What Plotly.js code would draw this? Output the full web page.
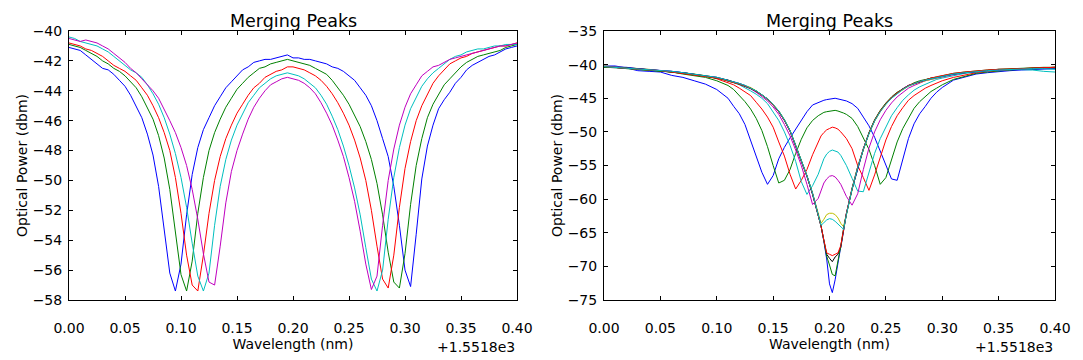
<!DOCTYPE html>
<html>
<head>
<meta charset="utf-8">
<script src="https://cdn.plot.ly/plotly-3.0.1.min.js"></script>
<style>
  body { margin: 0; background: #fff; }
  #myPlot { width: 1083px; height: 360px; }
</style>
</head>
<body>
<div id="myPlot"></div>
<script>
// wavelength offsets (nm), added to 1.5518e3
const leftX = [0.000,0.005,0.010,0.015,0.020,0.025,0.030,0.035,0.040,0.045,
  0.050,0.055,0.060,0.065,0.070,0.075,0.080,0.085,0.090,0.095,
  0.100,0.105,0.110,0.115,0.120,0.125,0.130,0.135,0.140,0.145,
  0.150,0.155,0.160,0.165,0.170,0.175,0.180,0.185,0.190,0.195,
  0.200,0.205,0.210,0.215,0.220,0.225,0.230,0.235,0.240,0.245,
  0.250,0.255,0.260,0.265,0.270,0.275,0.280,0.285,0.290,0.295,
  0.300,0.305,0.310,0.315,0.320,0.325,0.330,0.335,0.340,0.345,
  0.350,0.355,0.360,0.365,0.370,0.375,0.380,0.385,0.390,0.395,0.400];

const leftBlue = [-41.1,-41.2,-41.3,-41.6,-41.9,-42.2,-42.5,-42.6,-42.9,-43.3,
  -43.7,-44.3,-45.0,-45.8,-46.9,-48.3,-50.4,-53.2,-56.2,-57.4,
  -55.6,-52.3,-49.6,-47.8,-46.6,-45.8,-45.0,-44.4,-43.8,-43.4,
  -43.0,-42.6,-42.4,-42.1,-42.0,-41.9,-41.9,-41.8,-41.7,-41.6,
  -41.8,-41.8,-41.9,-41.9,-42.0,-42.1,-42.2,-42.4,-42.5,-42.7,
  -43.0,-43.3,-43.8,-44.3,-45.0,-46.0,-47.2,-48.4,-50.4,-53.0,
  -56.0,-57.1,-53.6,-49.9,-47.7,-46.3,-45.2,-44.6,-44.1,-43.5,
  -43.1,-42.6,-42.3,-42.1,-41.9,-41.7,-41.6,-41.4,-41.2,-41.1,-41.0];

const leftGreen = [-40.9,-41.0,-41.1,-41.3,-41.5,-41.7,-42.0,-42.2,-42.5,-42.7,
  -43.0,-43.4,-43.8,-44.4,-45.1,-45.9,-47.0,-48.5,-50.6,-53.4,
  -56.3,-57.4,-55.4,-52.2,-49.8,-48.0,-46.8,-45.9,-45.1,-44.5,
  -43.9,-43.5,-43.1,-42.8,-42.5,-42.4,-42.2,-42.1,-42.0,-41.9,
  -42.0,-42.1,-42.2,-42.3,-42.5,-42.7,-42.9,-43.3,-43.8,-44.3,
  -44.9,-45.6,-46.4,-47.4,-48.6,-50.2,-52.3,-54.8,-56.8,-57.2,
  -54.9,-51.6,-49.0,-47.2,-45.8,-44.9,-44.2,-43.6,-43.2,-42.8,
  -42.4,-42.1,-41.9,-41.7,-41.6,-41.5,-41.4,-41.3,-41.1,-41.0,-40.9];

const leftRed = [-40.8,-40.9,-41.0,-41.2,-41.3,-41.5,-41.7,-42.0,-42.3,-42.5,
  -42.7,-43.0,-43.3,-43.8,-44.3,-45.0,-45.8,-46.8,-48.0,-49.8,
  -52.2,-55.0,-57.0,-57.4,-55.0,-52.2,-50.0,-48.4,-47.2,-46.3,
  -45.5,-44.9,-44.3,-43.8,-43.5,-43.1,-42.9,-42.7,-42.6,-42.4,
  -42.4,-42.5,-42.6,-42.8,-43.0,-43.3,-43.7,-44.2,-44.8,-45.5,
  -46.3,-47.3,-48.5,-50.0,-52.0,-54.4,-56.6,-57.2,-55.0,-51.8,
  -49.2,-47.4,-46.0,-45.0,-44.2,-43.5,-43.0,-42.6,-42.2,-42.0,
  -41.8,-41.7,-41.5,-41.4,-41.3,-41.2,-41.1,-41.0,-41.0,-40.9,-40.8];

const leftCyan = [-40.4,-40.5,-40.7,-40.8,-40.9,-41.0,-41.2,-41.4,-41.7,-42.0,
  -42.3,-42.6,-42.8,-43.1,-43.6,-44.2,-44.9,-45.8,-46.9,-48.2,
  -49.8,-51.8,-54.2,-56.4,-57.4,-56.2,-53.0,-50.4,-48.6,-47.3,
  -46.3,-45.5,-44.8,-44.3,-43.8,-43.5,-43.2,-43.0,-42.9,-42.8,
  -42.9,-43.0,-43.2,-43.5,-43.8,-44.3,-44.9,-45.7,-46.6,-47.7,
  -49.0,-50.5,-52.3,-54.5,-56.6,-57.4,-56.0,-52.6,-49.8,-47.8,
  -46.3,-45.2,-44.4,-43.7,-43.2,-42.8,-42.5,-42.2,-41.9,-41.7,
  -41.6,-41.4,-41.3,-41.2,-41.2,-41.1,-41.0,-41.0,-40.9,-40.9,-40.9];

const leftMagenta = [-40.5,-40.6,-40.7,-40.6,-40.7,-40.8,-41.0,-41.2,-41.5,-41.8,
  -42.1,-42.5,-42.8,-43.2,-43.6,-44.0,-44.5,-45.2,-46.0,-46.8,
  -47.8,-49.0,-50.6,-52.6,-54.9,-56.8,-57.0,-54.4,-51.5,-49.4,
  -48.0,-46.9,-45.9,-45.1,-44.5,-44.0,-43.6,-43.4,-43.2,-43.1,
  -43.2,-43.3,-43.5,-43.8,-44.2,-44.8,-45.5,-46.3,-47.3,-48.4,
  -49.8,-51.4,-53.4,-55.6,-57.3,-56.4,-53.0,-50.0,-47.9,-46.3,
  -45.1,-44.2,-43.6,-43.0,-42.7,-42.4,-42.3,-42.1,-41.9,-41.8,
  -41.7,-41.6,-41.5,-41.4,-41.3,-41.2,-41.1,-41.0,-41.0,-40.9,-40.8];

const rightX = [0.00,0.01,0.02,0.03,0.04,0.05,0.06,0.07,0.08,0.09,0.10,
  0.105,0.11,0.115,0.12,0.125,0.13,0.135,0.14,0.145,0.15,0.155,0.16,0.165,0.17,0.175,0.18,0.185,
  0.19,0.1925,0.195,0.1975,0.20,0.2025,0.205,0.2075,0.21,0.2125,0.215,
  0.22,0.225,0.23,0.235,0.24,0.245,0.25,0.255,0.26,0.265,0.27,0.275,0.28,0.285,0.29,0.295,0.30,
  0.31,0.32,0.33,0.34,0.35,0.36,0.37,0.38,0.39,0.40];

const rightBlue1 = [-40.2,-40.2,-40.5,-40.9,-41.0,-41.1,-41.6,-41.9,-42.4,-42.9,-43.7,
  -44.4,-45.0,-46.2,-47.3,-48.9,-51.2,-53.8,-56.0,-57.8,-56.5,-54.0,-52.3,-50.9,-49.6,-48.3,-47.0,-46.0,
  -45.6,-45.5,-45.3,-45.2,-45.1,-45.1,-45.0,-45.1,-45.2,-45.3,-45.4,
  -45.8,-46.5,-47.8,-49.1,-50.8,-52.8,-55.0,-57.0,-57.2,-54.0,-51.0,-48.8,-47.3,-46.2,-45.0,-44.1,-43.4,
  -42.3,-41.8,-41.4,-41.2,-41.0,-40.9,-40.8,-40.7,-40.6,-40.6];

const rightGreen1 = [-40.4,-40.4,-40.6,-40.7,-40.8,-41.0,-41.1,-41.4,-41.6,-41.9,-42.4,
  -42.7,-43.1,-43.7,-44.6,-45.5,-46.6,-48.0,-49.8,-52.2,-55.0,-57.6,-57.2,-55.6,-53.2,-51.1,-49.4,-48.3,
  -47.6,-47.3,-47.1,-47.0,-46.9,-46.8,-46.8,-46.9,-47.0,-47.2,-47.4,
  -48.0,-49.2,-51.0,-52.6,-55.0,-57.8,-56.8,-54.0,-51.5,-49.5,-47.9,-46.5,-45.5,-44.7,-44.0,-43.5,-43.0,
  -42.2,-41.7,-41.3,-41.1,-40.9,-40.8,-40.7,-40.6,-40.6,-40.5];

const rightRed1 = [-40.3,-40.4,-40.6,-40.6,-40.8,-40.9,-41.1,-41.3,-41.5,-41.7,-42.1,
  -42.4,-42.7,-43.0,-43.5,-44.0,-44.6,-45.6,-46.6,-47.8,-49.3,-51.5,-53.6,-56.3,-58.5,-57.2,-55.6,-53.4,
  -51.5,-50.6,-50.1,-49.7,-49.5,-49.3,-49.4,-49.6,-50.0,-50.5,-51.0,
  -52.5,-55.0,-56.8,-58.7,-56.4,-53.8,-51.2,-49.2,-47.6,-46.4,-45.3,-44.6,-44.0,-43.5,-43.1,-42.7,-42.4,
  -41.9,-41.5,-41.2,-41.0,-40.8,-40.7,-40.6,-40.5,-40.5,-40.4];

const rightCyan1 = [-40.3,-40.4,-40.5,-40.6,-40.7,-40.9,-41.0,-41.2,-41.4,-41.6,-41.9,
  -42.2,-42.4,-42.7,-43.0,-43.4,-43.9,-44.4,-45.0,-45.8,-47.0,-48.3,-50.0,-52.0,-54.4,-57.4,-59.3,-58.0,
  -56.3,-55.2,-54.0,-53.3,-52.9,-52.7,-52.8,-53.0,-53.5,-54.2,-55.0,
  -56.9,-58.8,-58.9,-56.0,-53.2,-51.0,-49.2,-47.6,-46.4,-45.3,-44.5,-43.8,-43.3,-42.9,-42.5,-42.2,-42.0,
  -41.6,-41.3,-41.1,-40.9,-40.8,-40.7,-40.7,-40.8,-41.0,-41.1];

const rightMagenta1 = [-40.3,-40.4,-40.5,-40.6,-40.7,-40.8,-41.0,-41.2,-41.4,-41.6,-41.9,
  -42.1,-42.3,-42.6,-42.9,-43.2,-43.6,-44.1,-44.7,-45.4,-46.3,-47.4,-48.9,-50.6,-52.7,-55.0,-57.8,-60.8,
  -59.9,-58.6,-57.6,-57.0,-56.6,-56.5,-56.7,-57.2,-57.8,-58.7,-59.6,
  -60.9,-59.2,-55.6,-52.4,-50.0,-48.2,-46.8,-45.7,-44.8,-44.1,-43.5,-43.1,-42.7,-42.4,-42.2,-42.0,-41.8,
  -41.5,-41.2,-41.0,-40.9,-40.8,-40.7,-40.6,-40.5,-40.5,-40.4];

const rightYellow = [-40.2,-40.3,-40.4,-40.6,-40.7,-40.9,-41.0,-41.2,-41.4,-41.6,-41.9,
  -42.1,-42.3,-42.5,-42.8,-43.1,-43.4,-43.9,-44.5,-45.1,-45.9,-46.9,-48.2,-49.8,-52.0,-54.2,-56.5,-59.1,
  -62.1,-63.6,-63.0,-62.3,-62.1,-62.1,-62.3,-62.8,-63.6,-64.1,-62.1,
  -58.5,-55.3,-52.6,-50.3,-48.4,-47.0,-45.9,-45.0,-44.3,-43.7,-43.2,-42.9,-42.6,-42.4,-42.2,-42.0,-41.8,
  -41.4,-41.2,-41.0,-40.9,-40.8,-40.7,-40.6,-40.5,-40.5,-40.4];

const rightBlack = [-40.4,-40.4,-40.5,-40.6,-40.8,-40.9,-41.1,-41.2,-41.4,-41.7,-42.0,
  -42.1,-42.3,-42.6,-42.9,-43.2,-43.5,-44.0,-44.5,-45.2,-46.0,-47.0,-48.3,-49.9,-52.2,-54.3,-56.6,-59.3,
  -62.3,-64.0,-66.1,-68.2,-68.8,-69.3,-68.6,-68.2,-67.2,-64.4,-62.2,
  -58.5,-55.4,-52.6,-50.2,-48.3,-46.9,-45.8,-44.9,-44.2,-43.6,-43.1,-42.8,-42.5,-42.2,-42.0,-41.9,-41.7,
  -41.4,-41.2,-41.0,-40.9,-40.7,-40.7,-40.6,-40.5,-40.5,-40.4];

const rightBlue2 = [-40.3,-40.3,-40.4,-40.6,-40.7,-40.9,-41.0,-41.2,-41.5,-41.7,-41.9,
  -42.1,-42.4,-42.6,-42.8,-43.1,-43.5,-44.0,-44.5,-45.1,-46.0,-47.0,-48.3,-49.9,-52.1,-54.3,-56.6,-59.3,
  -62.4,-64.0,-66.3,-68.9,-72.6,-73.9,-72.0,-69.5,-67.1,-64.4,-62.1,
  -58.5,-55.3,-52.5,-50.2,-48.3,-46.9,-45.8,-44.9,-44.2,-43.6,-43.1,-42.8,-42.5,-42.3,-42.1,-41.9,-41.7,
  -41.4,-41.2,-41.0,-40.9,-40.8,-40.7,-40.6,-40.5,-40.5,-40.5];

const rightGreen2 = [-40.4,-40.4,-40.5,-40.7,-40.8,-40.9,-41.1,-41.3,-41.5,-41.7,-42.0,
  -42.2,-42.4,-42.6,-42.9,-43.2,-43.5,-43.9,-44.5,-45.1,-46.0,-46.9,-48.2,-49.8,-52.0,-54.2,-56.5,-59.2,
  -62.3,-64.0,-66.2,-68.5,-69.8,-71.2,-71.4,-69.3,-67.0,-64.3,-62.2,
  -58.4,-55.2,-52.5,-50.1,-48.2,-46.8,-45.7,-44.8,-44.1,-43.6,-43.1,-42.7,-42.4,-42.2,-42.0,-41.8,-41.6,
  -41.3,-41.1,-40.9,-40.8,-40.7,-40.6,-40.6,-40.5,-40.4,-40.4];

const rightRed2 = [-40.3,-40.4,-40.5,-40.6,-40.8,-40.9,-41.1,-41.3,-41.5,-41.7,-42.0,
  -42.2,-42.4,-42.6,-42.9,-43.2,-43.5,-44.0,-44.5,-45.1,-46.0,-47.0,-48.3,-49.9,-52.1,-54.3,-56.6,-59.2,
  -62.3,-64.0,-66.1,-68.0,-68.2,-68.4,-68.2,-68.0,-66.9,-64.3,-62.1,
  -58.4,-55.2,-52.5,-50.2,-48.3,-46.9,-45.8,-44.9,-44.2,-43.6,-43.1,-42.8,-42.5,-42.2,-42.0,-41.8,-41.6,
  -41.3,-41.1,-40.9,-40.8,-40.7,-40.7,-40.6,-40.5,-40.5,-40.4];

const rightCyan2 = [-40.3,-40.4,-40.5,-40.6,-40.7,-40.9,-41.0,-41.2,-41.4,-41.6,-41.9,
  -42.1,-42.3,-42.6,-42.8,-43.1,-43.5,-43.9,-44.5,-45.1,-45.9,-46.9,-48.2,-49.8,-52.0,-54.2,-56.5,-59.1,
  -62.2,-63.9,-63.5,-63.1,-62.9,-63.0,-63.3,-63.7,-64.2,-64.5,-62.3,
  -58.5,-55.3,-52.6,-50.3,-48.4,-47.0,-45.9,-45.0,-44.3,-43.7,-43.2,-42.8,-42.5,-42.3,-42.1,-41.9,-41.7,
  -41.4,-41.2,-41.0,-40.9,-40.8,-40.7,-40.6,-40.6,-40.6,-40.7];

const leftTicksY = [-40,-42,-44,-46,-48,-50,-52,-54,-56,-58];
const rightTicksY = [-35,-40,-45,-50,-55,-60,-65,-70,-75];

// matplotlib classic colour cycle
const cycle = ['#0000ff', '#008000', '#ff0000', '#00bfbf', '#bf00bf', '#bfbf00', '#000000'];

const leftSeries = [leftBlue, leftGreen, leftRed, leftCyan, leftMagenta];
const rightSeries = [rightBlue1, rightGreen1, rightRed1, rightCyan1, rightMagenta1,
  rightYellow, rightBlack, rightBlue2, rightGreen2, rightRed2, rightCyan2];

const data = [];
leftSeries.forEach(function (ys, i) {
  data.push({x: leftX, y: ys, xaxis: 'x', yaxis: 'y', mode: 'lines',
    line: {color: cycle[i % cycle.length], width: 1}, hoverinfo: 'skip'});
});
rightSeries.forEach(function (ys, i) {
  data.push({x: rightX, y: ys, xaxis: 'x2', yaxis: 'y2', mode: 'lines',
    line: {color: cycle[i % cycle.length], width: 1}, hoverinfo: 'skip'});
});

const font = {family: 'DejaVu Sans, sans-serif', size: 14, color: '#000'};

function xAxis(domain, anchor) {
  return {
    domain: domain, anchor: anchor, range: [0, 0.4], dtick: 0.05, tick0: 0,
    tickformat: '.2f', ticks: 'inside', ticklen: 4, tickcolor: '#000',
    showline: true, linecolor: '#000', linewidth: 1, mirror: 'ticks',
    showgrid: false, zeroline: false, ticklabelstandoff: 15,
    tickfont: font,
    title: {text: 'Wavelength (nm)', font: font, standoff: 0}
  };
}
function yAxis(domain, anchor, range, ticks) {
  return {
    domain: domain, anchor: anchor, range: range, tickvals: ticks,
    ticks: 'inside', ticklen: 4, tickcolor: '#000',
    showline: true, linecolor: '#000', linewidth: 1, mirror: 'ticks',
    showgrid: false, zeroline: false, ticklabelstandoff: 3,
    tickfont: font,
    title: {text: 'Optical Power (dbm)', font: font, standoff: 1}
  };
}

const titleFont = {family: font.family, size: 17.5, color: '#000'};

const layout = {
  width: 1083, height: 360,
  margin: {l: 0, r: 0, t: 31, b: 60},
  paper_bgcolor: '#fff', plot_bgcolor: '#fff',
  showlegend: false,
  font: font,
  xaxis: xAxis([69 / 1083, 517 / 1083], 'y'),
  yaxis: yAxis([0, 1], 'x', [-58, -40], leftTicksY),
  xaxis2: xAxis([604 / 1083, 1055 / 1083], 'y2'),
  yaxis2: yAxis([0, 1], 'x2', [-75, -35], rightTicksY),
  annotations: [
    {text: 'Merging Peaks', xref: 'x domain', yref: 'paper', x: 0.5, y: 1,
      xanchor: 'center', yanchor: 'bottom', showarrow: false, font: titleFont, yshift: -2},
    {text: 'Merging Peaks', xref: 'x2 domain', yref: 'paper', x: 0.5, y: 1,
      xanchor: 'center', yanchor: 'bottom', showarrow: false, font: titleFont, yshift: -2},
    {text: '+1.5518e3', xref: 'x domain', yref: 'paper', x: 1, y: 0,
      xanchor: 'right', yanchor: 'top', showarrow: false, font: font, yshift: -37},
    {text: '+1.5518e3', xref: 'x2 domain', yref: 'paper', x: 1, y: 0,
      xanchor: 'right', yanchor: 'top', showarrow: false, font: font, yshift: -37}
  ]
};

Plotly.newPlot('myPlot', data, layout, {displayModeBar: false, staticPlot: true});
</script>
</body>
</html>
